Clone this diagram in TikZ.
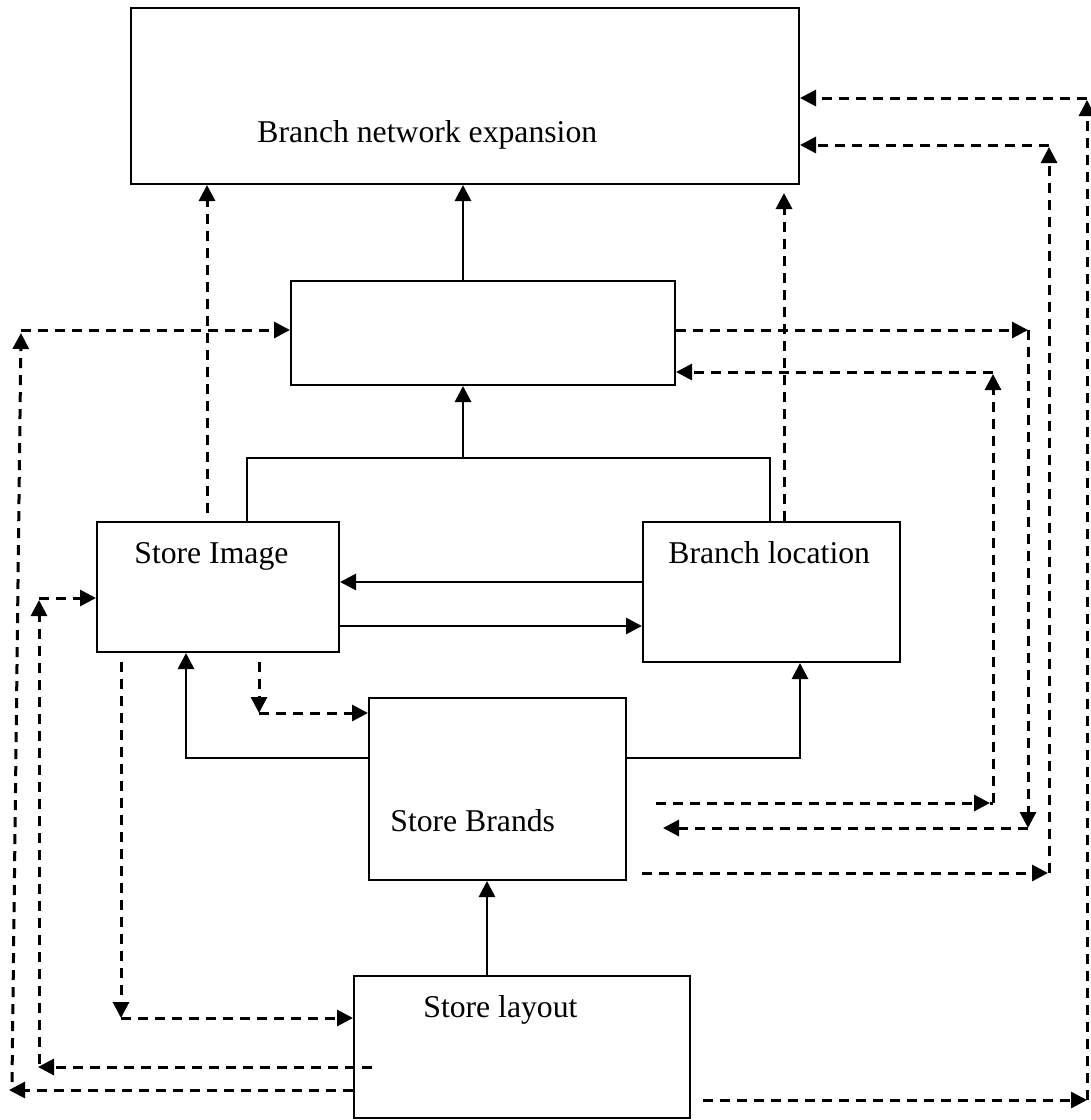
\documentclass[tikz,border=0pt]{standalone}
\usepackage{fontspec}
\setmainfont{Liberation Serif}
\usetikzlibrary{arrows.meta}
\tikzset{
  box/.style={draw, line width=1pt, rectangle, inner sep=0pt},
  lbl/.style={anchor=base west, inner sep=0pt, font=\fontsize{15.85}{19}\selectfont},
  sline/.style={line width=1.4pt},
  sarr/.style={line width=1.4pt, -{Triangle[length=8pt,width=8pt]}},
  dline/.style={line width=1.5pt, dash pattern=on 5pt off 3.5pt},
  darr/.style={dline, -{Triangle[length=8pt,width=8pt]}},
}
\begin{document}
\begin{tikzpicture}[x=0.5pt,y=-0.5pt]
\useasboundingbox (0,0) rectangle (1091,1120);
% boxes
\node[box, minimum width=334pt, minimum height=88pt] (top) at (465,96) {};
\node[box, minimum width=192pt, minimum height=52pt] (mid) at (483,333) {};
\node[box, minimum width=121pt, minimum height=65pt] (img) at (218,587) {};
\node[box, minimum width=128.5pt, minimum height=70pt] (loc) at (771.5,592) {};
\node[box, minimum width=128.5pt, minimum height=91pt] (brd) at (497.5,789) {};
\node[box, minimum width=168pt, minimum height=71pt] (lay) at (522,1047) {};
% labels
\node[lbl] (ttop) at (257,142) {Branch network expansion};
\node[lbl] (timg) at (134,563) {Store Image};
\node[lbl] (tloc) at (668,563) {Branch location};
\node[lbl] (tbrd) at (390,831) {Store Brands};
\node[lbl] (tlay) at (423,1017) {Store layout};
% coordinates
\coordinate (xm) at (463,0);
\coordinate (jL) at (247,458);
\coordinate (jM) at (463,458);
\coordinate (jR) at (770,458);
\coordinate (yA) at (0,582);
\coordinate (yB) at (0,626);
\coordinate (bL) at (186,758);
\coordinate (bR) at (800,758);
\coordinate (xl) at (487,0);
% solid connectors
\draw[sarr] (mid.north -| xm) -- (top.south -| xm);
\draw[sline] (img.north -| jL) -- (jL) -- (jR) -- (loc.north -| jR);
\draw[sarr] (jM) -- (mid.south -| jM);
\draw[sarr] (loc.west |- yA) -- (img.east |- yA);
\draw[sarr] (img.east |- yB) -- (loc.west |- yB);
\draw[sarr] (brd.west |- bL) -- (bL) -- (img.south -| bL);
\draw[sarr] (brd.east |- bR) -- (bR) -- (loc.south -| bR);
\draw[sarr] (lay.north -| xl) -- (brd.south -| xl);
% dashed connectors
\coordinate (d1s) at (207,513);
\draw[darr] (d1s) -- (top.south -| d1s);
\coordinate (d2e) at (784,193);
\draw[darr] (loc.north -| d2e) -- (d2e);
% far left loop
\coordinate (a1) at (9,1090);
\coordinate (a2) at (12,1082);
\coordinate (a3) at (21,333);
\coordinate (a4) at (21,330);
\draw[darr] (lay.west |- a1) -- (a1);
\draw[darr] (a2) -- (a3);
\draw[darr] (a4) -- (mid.west |- a4);
% second left loop
\coordinate (b0) at (372,1067);
\coordinate (b1) at (38,1067);
\coordinate (b2) at (39,1064);
\coordinate (b3) at (39,600);
\coordinate (b4) at (39,598);
\draw[darr] (b0) -- (b1);
\draw[darr] (b2) -- (b3);
\draw[darr] (b4) -- (img.west |- b4);
% image to layout
\coordinate (c0) at (121,662);
\coordinate (c1) at (121,1018);
\draw[darr] (c0) -- (c1);
\draw[darr] (c1) -- (lay.west |- c1);
% image to brands
\coordinate (e0) at (259,662);
\coordinate (e1) at (259,713);
\draw[darr] (e0) -- (e1);
\draw[darr] (e1) -- (brd.west |- e1);
% right loop 1
\coordinate (f1) at (1028,330);
\coordinate (f2) at (1028,828);
\coordinate (f3) at (663,828);
\draw[darr] (mid.east |- f1) -- (f1);
\draw[darr] (f1) -- (f2);
\draw[darr] (f2) -- (f3);
% right loop 2
\coordinate (g0) at (656,803);
\coordinate (g1) at (990,803);
\coordinate (g2) at (993,803);
\coordinate (g3) at (993,374);
\coordinate (g4) at (993,372);
\draw[darr] (g0) -- (g1);
\draw[dline] (g1) -- (g2);
\draw[darr] (g2) -- (g3);
\draw[darr] (g4) -- (mid.east |- g4);
% right loop 3
\coordinate (h0) at (642,873);
\coordinate (h1) at (1048,873);
\coordinate (h2) at (1049,873);
\coordinate (h3) at (1049,147);
\coordinate (h4) at (1049,145);
\draw[darr] (h0) -- (h1);
\draw[darr] (h2) -- (h3);
\draw[darr] (h4) -- (top.east |- h4);
% right loop 4
\coordinate (k0) at (703,1100);
\coordinate (k1) at (1087,1100);
\coordinate (k2) at (1087,100);
\coordinate (k3) at (1087,98);
\draw[darr] (k0) -- (k1);
\draw[darr] (k1) -- (k2);
\draw[darr] (k3) -- (top.east |- k3);
\end{tikzpicture}
\end{document}
